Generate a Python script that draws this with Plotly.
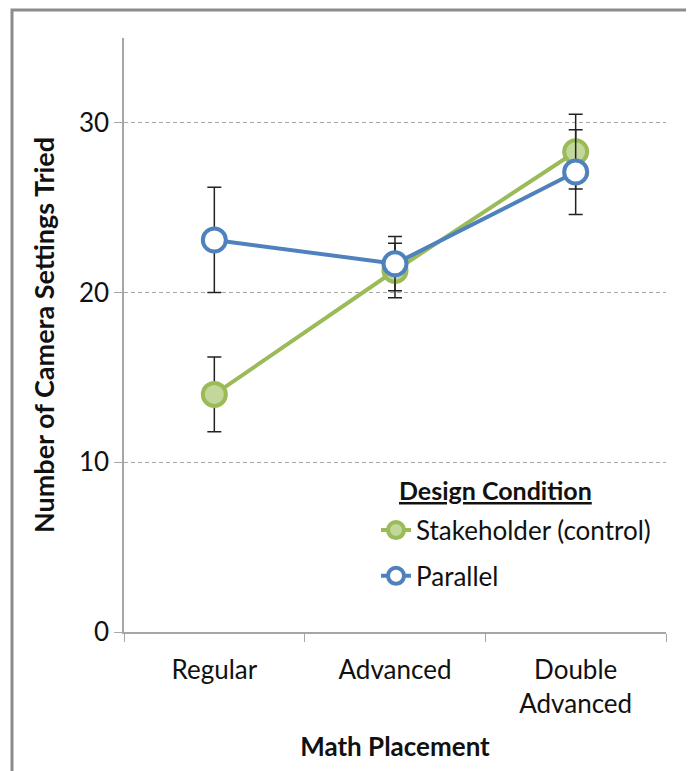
import plotly.graph_objects as go

categories = ["Regular", "Advanced", "Double<br>Advanced"]
stake_vals = [14.0, 21.3, 28.3]
stake_err = [2.2, 1.6, 2.2]
par_vals = [23.1, 21.7, 27.1]
par_err = [3.1, 1.6, 2.5]
y_ticks = [0, 10, 20, 30]

FONT = "Lato"
green = "#9BBB59"
green_fill = "#C4D79B"
blue = "#4F81BD"
FS = 26

fig = go.Figure()
fig.add_trace(go.Scatter(
    x=categories, y=stake_vals, name="Stakeholder (control)", legendgroup="s",
    mode="lines+markers",
    line=dict(color=green, width=4),
    marker=dict(size=23, color=green_fill, line=dict(color=green, width=4)),
    error_y=dict(type="data", array=stake_err, color="#222222", thickness=1.5, width=7),
))
fig.add_trace(go.Scatter(
    x=categories, y=par_vals, name="Parallel", legendgroup="p",
    mode="lines+markers",
    line=dict(color=blue, width=4),
    marker=dict(size=23, color="white", line=dict(color=blue, width=4)),
    error_y=dict(type="data", array=par_err, color="#222222", thickness=1.5, width=7),
))

fig.update_layout(
    width=686, height=763,
    margin=dict(l=116, r=28, t=30, b=139),
    paper_bgcolor="white", plot_bgcolor="white",
    font=dict(family=FONT, size=FS, color="#111111"),
    showlegend=True,
    legend=dict(
        x=0.465, y=0.211, xanchor="left", yanchor="top",
        font=dict(family=FONT, size=FS), traceorder="grouped",
        bgcolor="rgba(0,0,0,0)", itemwidth=30, tracegroupgap=9,
    ),
    xaxis=dict(
        type="category", range=[-0.5, 2.5],
        showline=True, linecolor="#A6A6A6", linewidth=1.5,
        showgrid=False, ticks="outside", tickson="boundaries", ticklen=8, tickcolor="#A6A6A6",
        tickfont=dict(size=FS, family=FONT), ticklabelstandoff=14,
        title=dict(text="<b>Math Placement</b>", font=dict(size=FS, family=FONT), standoff=20),
        zeroline=False,
    ),
    yaxis=dict(
        range=[0, 35], tickvals=y_ticks,
        showline=True, linecolor="#A6A6A6", linewidth=1.5,
        ticks="outside", ticklen=8, tickcolor="#A6A6A6",
        showgrid=True, gridcolor="#A6A6A6", griddash="4px,3px", gridwidth=1,
        zeroline=False, tickfont=dict(size=FS, family=FONT),
        title=dict(text="<b>Number of Camera Settings Tried</b>", font=dict(size=27, family=FONT), standoff=16),
    ),
)

fig.add_annotation(
    text="<b><u>Design Condition</u></b>", xref="paper", yref="paper",
    x=(495 - 124) / 542, y=(632 - 490) / 594, xanchor="center", yanchor="middle",
    showarrow=False, font=dict(family=FONT, size=FS - 1),
)

# outer chart frame
fig.add_shape(type="rect", xref="paper", yref="paper",
              x0=(12 - 124) / 542, x1=1.2, y0=-0.5, y1=1 + 28 / 594,
              line=dict(color="#8C8C8C", width=3), layer="below")

fig.write_html("out.html")
